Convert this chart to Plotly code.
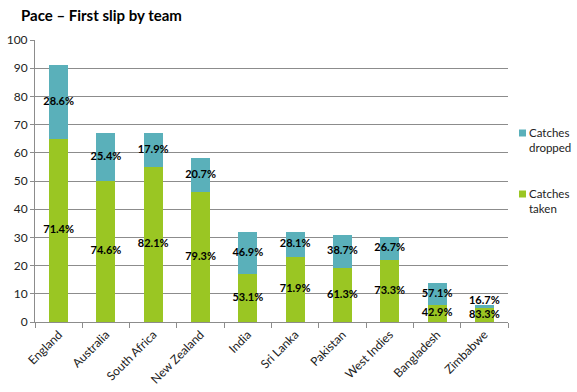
import plotly.graph_objects as go

teams = ["England", "Australia", "South Africa", "New Zealand", "India",
         "Sri Lanka", "Pakistan", "West Indies", "Bangladesh", "Zimbabwe"]
taken = [65, 50, 55, 46, 17, 23, 19, 22, 6, 5]
dropped = [26, 17, 12, 12, 15, 9, 12, 8, 8, 1]
taken_pct = ["71.4%", "74.6%", "82.1%", "79.3%", "53.1%", "71.9%", "61.3%", "73.3%", "42.9%", "83.3%"]
dropped_pct = ["28.6%", "25.4%", "17.9%", "20.7%", "46.9%", "28.1%", "38.7%", "26.7%", "57.1%", "16.7%"]
series_names = ["Catches<br>dropped", "Catches<br>taken"]

GREEN = "#9AC623"
TEAL = "#5AB0BA"
FONT = "Lato"

W, H = 577, 392
L, R, T, B = 35, 69, 40, 70
plot_w, plot_h = W - L - R, H - T - B

fig = go.Figure()
fig.add_trace(go.Bar(x=teams, y=taken, name=series_names[1], marker_color=GREEN,
                     marker_line_width=0, width=0.4))
fig.add_trace(go.Bar(x=teams, y=dropped, name=series_names[0], marker_color=TEAL,
                     marker_line_width=0, width=0.4))

mid_taken = [t / 2 for t in taken]
mid_dropped = [max(t + d / 2, t / 2 + 5) for t, d in zip(taken, dropped)]
for ys, txt in ((mid_taken, taken_pct), (mid_dropped, dropped_pct)):
    fig.add_trace(go.Scatter(x=teams, y=ys, text=txt, mode="text", showlegend=False,
                             textfont=dict(family=FONT, size=11, color="black", weight="bold"),
                             cliponaxis=False, hoverinfo="skip"))

# manual legend (to the right of the plot area); positions in px from plot corner
sq = 7
legend_items = [(series_names[0], TEAL, 189), (series_names[1], GREEN, 128)]
for name, color, ypx in legend_items:
    yc = ypx / plot_h
    fig.add_shape(type="rect", xref="paper", yref="paper",
                  x0=484 / plot_w, x1=(484 + sq) / plot_w,
                  y0=yc - sq / 2 / plot_h, y1=yc + sq / 2 / plot_h,
                  fillcolor=color, line_width=0)
    fig.add_annotation(xref="paper", yref="paper", x=492 / plot_w,
                       y=(ypx + 9) / plot_h, xanchor="left", yanchor="top",
                       align="left", text=name, showarrow=False,
                       font=dict(family=FONT, size=11.5, color="#222222"))

fig.update_layout(
    width=W, height=H, barmode="stack",
    margin=dict(l=L, r=R, t=T, b=B, autoexpand=False),
    plot_bgcolor="white", paper_bgcolor="white",
    font=dict(family=FONT, size=12, color="#333333"),
    title=dict(text="<b>Pace – First slip by team</b>", x=21 / W, xanchor="left",
               y=1 - 16 / H, yanchor="middle", font=dict(family=FONT, size=15, color="black")),
    showlegend=False,
    yaxis=dict(range=[0, 100], dtick=10, showgrid=True, gridcolor="#8C8C8C", gridwidth=1,
               showline=True, linecolor="#8C8C8C", ticks="outside", ticklen=4,
               tickcolor="#8C8C8C", zeroline=False, tickfont=dict(size=12, color="#222222")),
    xaxis=dict(showline=True, linecolor="#8C8C8C", ticks="outside", ticklen=5,
               tickcolor="#8C8C8C", tickson="boundaries", tickangle=-45,
               tickfont=dict(size=12, color="#222222")),
)

# remove the default page margin so the figure fills the window exactly
fig.write_html("out.html", config={"displayModeBar": False},
               post_script="document.body.style.margin='0';document.body.style.overflow='hidden';")
